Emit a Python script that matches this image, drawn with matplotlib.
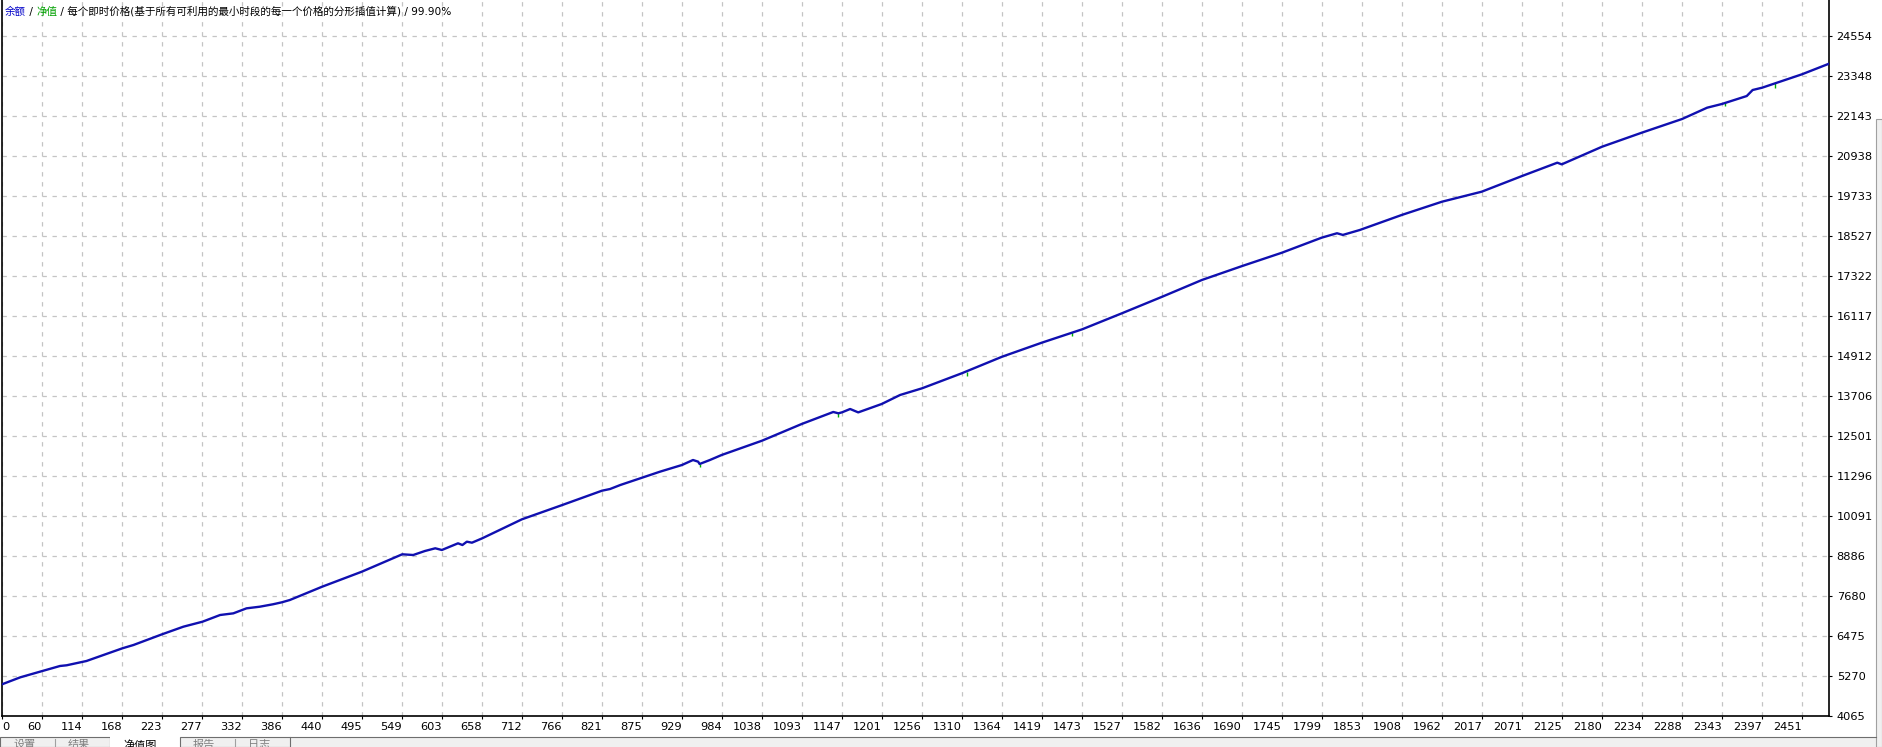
#balance / equity chart from a strategy tester report, redrawn with matplotlib
import numpy as np
import matplotlib
matplotlib.use('agg')
import matplotlib.pyplot as plt
from matplotlib.patches import Rectangle

plt.rcParams['font.family'] = ['DejaVu Sans', 'Noto Sans CJK SC']

#balance curve (trade number, balance)
trade_no = [0, 25, 55, 79, 88, 115, 164, 179, 218, 247, 273, 297, 315, 333, 351, 369,
            381, 392, 436, 490, 545, 560, 576, 590, 599, 621, 627, 633, 640, 654, 708,
            763, 817, 828, 842, 896, 926, 941, 948, 950, 964, 980, 1035, 1089, 1132,
            1139, 1144, 1155, 1166, 1198, 1223, 1253, 1307, 1362, 1416, 1471, 1525,
            1580, 1634, 1689, 1743, 1797, 1818, 1826, 1849, 1906, 1961, 2015, 2070,
            2118, 2124, 2179, 2233, 2288, 2322, 2342, 2376, 2384, 2397, 2451, 2487]
balance = [5020, 5231, 5421, 5572, 5593, 5722, 6105, 6204, 6527, 6756, 6906, 7108, 7158,
           7309, 7358, 7431, 7490, 7560, 7961, 8413, 8937, 8916, 9037, 9118, 9067, 9268,
           9217, 9317, 9287, 9419, 9991, 10422, 10853, 10904, 11025, 11426, 11628, 11778,
           11728, 11658, 11778, 11929, 12360, 12863, 13225, 13185, 13215, 13315, 13213,
           13466, 13737, 13939, 14391, 14891, 15313, 15716, 16198, 16698, 17202, 17624,
           18024, 18476, 18610, 18560, 18708, 19160, 19561, 19862, 20335, 20736, 20686,
           21218, 21640, 22053, 22393, 22504, 22745, 22926, 22996, 23398, 23710]

#small equity dips (green marks under the balance line)
dip_no = [950, 1139, 1314, 1457, 2346, 2414]
dip_top = [11658, 13185, 14436, 15644, 22575, 23147]
dip_low = [11567, 13085, 14315, 15523, 22454, 22996]

x_labels = ['0', '60', '114', '168', '223', '277', '332', '386', '440', '495', '549',
            '603', '658', '712', '766', '821', '875', '929', '984', '1038', '1093',
            '1147', '1201', '1256', '1310', '1364', '1419', '1473', '1527', '1582',
            '1636', '1690', '1745', '1799', '1853', '1908', '1962', '2017', '2071',
            '2125', '2180', '2234', '2288', '2343', '2397', '2451']
y_ticks = [4065, 5270, 6475, 7680, 8886, 10091, 11296, 12501, 13706, 14912, 16117,
           17322, 18527, 19733, 20938, 22143, 23348, 24554]

title_parts = [('余额', '#0000c8'), (' / ', 'black'), ('净值', '#00a000'),
               (' / 每个即时价格(基于所有可利用的最小时段的每一个价格的分形插值计算) / 99.90%', 'black')]
tabs = [('设置', 13), ('结果', 68), ('净值图', 123), ('报告', 193), ('日志', 248)]

W, H = 1882, 747
fig = plt.figure(figsize=(W/100, H/100), dpi=100)
fig.patch.set_facecolor('white')
ax = fig.add_axes([2/W, 1-716/H, 1827/W, 716/H])

ax.vlines(dip_no, dip_low, dip_top, color='#00b000', linewidth=1.0, zorder=2)
ax.plot(trade_no, balance, color='#1010b0', linewidth=1.7, zorder=3)

ax.set_xlim(0, 2488)
ax.set_ylim(4065, 25638)

ax.set_xticks(np.linspace(0, 2451, len(x_labels)))
ax.set_xticklabels(x_labels)
ax.set_yticks(y_ticks)
ax.set_yticklabels([str(v) for v in y_ticks])
ax.yaxis.tick_right()

ax.grid(True, color='#c4c4c4', linestyle=(0, (3.5, 4.5)), linewidth=0.9)
ax.set_axisbelow(True)

ax.tick_params(axis='y', direction='out', length=2.5, width=0.8, pad=3, labelsize=8.2, colors='black')
ax.tick_params(axis='x', direction='out', length=2.5, width=0.8, pad=2, labelsize=8.2, colors='black')
for i, lbl in enumerate(ax.get_xticklabels()):
    lbl.set_ha('left' if i == 0 else 'right')

ax.spines['top'].set_visible(False)
for s in ['left', 'right', 'bottom']:
    ax.spines[s].set_color('black')
    ax.spines[s].set_linewidth(1.2)

#title made of coloured pieces, each one placed after the previous
prev = fig.text(5/W, 1-17/H, title_parts[0][0], color=title_parts[0][1], fontsize=7.6, va='bottom')
for txt, col in title_parts[1:]:
    prev = ax.annotate(txt, xy=(1, 0), xycoords=prev, va='bottom', ha='left',
                       color=col, fontsize=7.6, annotation_clip=False)

#tab strip at the bottom (cut off by the edge of the picture)
fig.add_artist(Rectangle((0, 0), 1, 10/H, transform=fig.transFigure,
                         facecolor='#f0f0f0', edgecolor='none'))
fig.add_artist(Rectangle((0, 0), 110/W, 10/H, transform=fig.transFigure,
                         facecolor='#f0f0f0', edgecolor='#6e6e6e', linewidth=0.8))
fig.add_artist(Rectangle((110/W, 0), 70/W, 12/H, transform=fig.transFigure,
                         facecolor='white', edgecolor='none'))
fig.add_artist(Rectangle((180/W, 0), 110/W, 10/H, transform=fig.transFigure,
                         facecolor='#f0f0f0', edgecolor='#6e6e6e', linewidth=0.8))
fig.add_artist(plt.Line2D([290/W, 1876/W], [10/H, 10/H], transform=fig.transFigure,
                          color='#6e6e6e', linewidth=0.8))
for x in [55, 235]:
    fig.add_artist(plt.Line2D([x/W, x/W], [0, 8/H], transform=fig.transFigure,
                              color='#a0a0a0', linewidth=0.8))
for txt, x in tabs:
    fig.text(x/W, 1-740/H, txt, fontsize=8, va='top', ha='left',
             color='black' if txt == '净值图' else '#808080')

#scroll bar on the right edge
fig.add_artist(Rectangle((1876/W, 0), 6/W, (747-119)/H, transform=fig.transFigure,
                         facecolor='#f0f0f0', edgecolor='#a0a0a0', linewidth=0.8))

plt.savefig('out.png', dpi=100)
plt.close()
